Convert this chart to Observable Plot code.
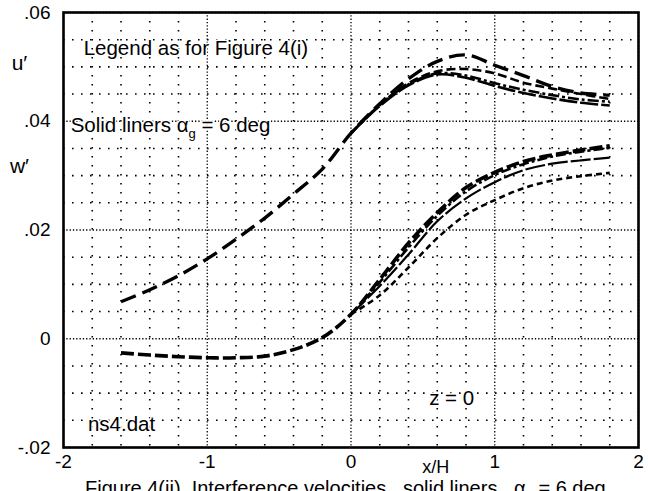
<!DOCTYPE html>
<html><head><meta charset="utf-8">
<script src="https://cdn.jsdelivr.net/npm/d3@7"></script>
<script src="https://cdn.jsdelivr.net/npm/@observablehq/plot@0.6"></script>
<style>
body{margin:0;background:#fff;overflow:hidden;width:648px;height:491px;position:relative;font-family:"Liberation Sans",Arial,sans-serif;color:#000}
#chart{position:absolute;left:0;top:0;}
#cap{position:absolute;left:85px;top:480px;font-size:20px;line-height:16px;white-space:pre;}
#cap sub{font-size:13px;line-height:0;}
</style></head><body>
<div id="chart"></div>
<div id="cap">Figure 4(ii)  Interference velocities,  solid liners,  α<sub>g</sub> = 6 deg</div>
<script>
// x/H stations
const xs = [-1.6,-1.4,-1.2,-1.0,-0.8,-0.6,-0.4,-0.2,0,0.2,0.4,0.6,0.8,1.0,1.2,1.4,1.6,1.8];
// u' curves (four cases, legend as for Figure 4(i))
const uA = [0.0068,0.0090,0.0116,0.0147,0.0183,0.0222,0.0266,0.0312,0.0378,0.0432,0.0478,0.0510,0.0522,0.0503,0.0484,0.0464,0.0452,0.0448];
const uB = [0.0068,0.0090,0.0116,0.0147,0.0183,0.0222,0.0266,0.0312,0.0378,0.0430,0.0470,0.0492,0.0496,0.0488,0.0471,0.0460,0.0450,0.0441];
const uC = [0.0068,0.0090,0.0116,0.0147,0.0183,0.0222,0.0266,0.0312,0.0378,0.0430,0.0468,0.0488,0.0484,0.0470,0.0458,0.0448,0.0440,0.0436];
const uD = [0.0068,0.0090,0.0116,0.0147,0.0183,0.0222,0.0266,0.0312,0.0378,0.0428,0.0466,0.0486,0.0480,0.0465,0.0452,0.0442,0.0434,0.0429];
// w' curves
const wA = [-0.0026,-0.0030,-0.0033,-0.0035,-0.0035,-0.0032,-0.0020,0.0002,0.0045,0.0109,0.0176,0.0232,0.0278,0.0306,0.0326,0.0338,0.0347,0.0355];
const wB = [-0.0026,-0.0030,-0.0033,-0.0035,-0.0035,-0.0032,-0.0020,0.0002,0.0045,0.0104,0.0168,0.0226,0.0271,0.0301,0.0321,0.0335,0.0344,0.0351];
const wC = [-0.0026,-0.0030,-0.0033,-0.0035,-0.0035,-0.0032,-0.0020,0.0002,0.0045,0.0097,0.0155,0.0216,0.0258,0.0288,0.0310,0.0322,0.0328,0.0333];
const wD = [-0.0026,-0.0030,-0.0033,-0.0035,-0.0035,-0.0032,-0.0020,0.0002,0.0045,0.0080,0.0131,0.0185,0.0228,0.0255,0.0277,0.0291,0.0299,0.0305];
// axes
const xTicks = [-2,-1,0,1,2];
const yTicks = [-0.02,0,0.02,0.04,0.06];
const yTickLabels = ["-.02","0",".02",".04",".06"];
const xMinor = d3.range(-20,21,2).map(d=>d/10).filter(d=>!xTicks.includes(d));
const yMinor = d3.range(-4,13,1).map(d=>d/200).filter(d=>!yTicks.some(t=>Math.abs(t-d)<1e-9));
// annotations
const notes = [
  {x:-1.86, y:0.0533, text:"Legend as for Figure 4(i)"},
  {x:-1.95, y:0.0392, text:"Solid liners α_g = 6 deg"},
  {x:-1.83, y:-0.0157, text:"ns4.dat"}
];

const toRows = (arr, from) => xs.map((x,i)=>({x, y:arr[i]})).filter(d=>d.x>=from);
const lineStyle = (arr, dash, w=2.6, from=-Infinity) => Plot.line(toRows(arr, from), {x:"x", y:"y", curve:"catmull-rom", stroke:"#000", strokeWidth:w, strokeDasharray:dash, strokeLinecap:"butt"});

const plot = Plot.plot({
  width:648, height:480,
  marginLeft:63, marginRight:10, marginTop:12, marginBottom:33,
  style:{fontFamily:"Liberation Sans, Arial, sans-serif", color:"#000", background:"#fff"},
  x:{domain:[-2,2], label:null},
  y:{domain:[-0.02,0.06], label:null},
  marks:[
    Plot.ruleX(xMinor, {stroke:"#000", strokeWidth:1.6, strokeDasharray:"1.6,7.4"}),
    Plot.ruleY(yMinor, {stroke:"#000", strokeWidth:1.6, strokeDasharray:"1.6,7.4"}),
    Plot.ruleX(xTicks, {stroke:"#000", strokeWidth:1.3, strokeDasharray:"1.3,2"}),
    Plot.ruleY(yTicks, {stroke:"#000", strokeWidth:1.3, strokeDasharray:"1.3,2"}),
    Plot.text(notes, {x:"x", y:"y", text:"text", textAnchor:"start", fontSize:20.5, fill:"#000", stroke:"#fff", strokeWidth:3, paintOrder:"stroke"}),
    Plot.text(["z = 0"], {x:0.70, y:-0.0109, text:d=>d, fontSize:20.5, fill:"#000", stroke:"#fff", strokeWidth:3}),
    lineStyle(uA, "16,7", 3.4),
    lineStyle(uB, "9,4", 2.6, 0),
    lineStyle(uC, "11,3,3,3", 2.6, 0),
    lineStyle(uD, "18,3", 2.6, 0),
    lineStyle(wA, "13,4", 3.6),
    lineStyle(wB, "10,3,3,3", 2.6, 0),
    lineStyle(wC, "20,3", 2.2, 0),
    lineStyle(wD, "6,4", 2.6, 0),
    Plot.frame({stroke:"#000", strokeWidth:2.6}),
    Plot.axisX(xTicks, {tickSize:0, tickPadding:7, fontSize:19, tickFormat:d=>String(d)}),
    Plot.axisY(yTicks, {tickSize:0, tickPadding:13, fontSize:19, tickFormat:(d)=>yTickLabels[yTicks.indexOf(d)]}),
    Plot.text(["x/H"], {x:0.59, y:-0.02, dy:20, text:d=>d, fontSize:18, fill:"#000"}),
    Plot.text(["u′"], {x:-2, y:0.0506, dx:-44, text:d=>d, fontSize:21, fill:"#000"}),
    Plot.text(["w′"], {x:-2, y:0.0317, dx:-44, text:d=>d, fontSize:21, fill:"#000"})
  ]
});
document.getElementById("chart").appendChild(plot);
d3.select(plot).selectAll("text").each(function(){
  const t = d3.select(this);
  if (this.textContent === "Solid liners α_g = 6 deg") {
    t.text("");
    t.append("tspan").text("Solid liners α");
    t.append("tspan").attr("dy","6").attr("font-size","13").text("g");
    t.append("tspan").attr("dy","-6").text(" = 6 deg");
  }
});
</script>
</body></html>
